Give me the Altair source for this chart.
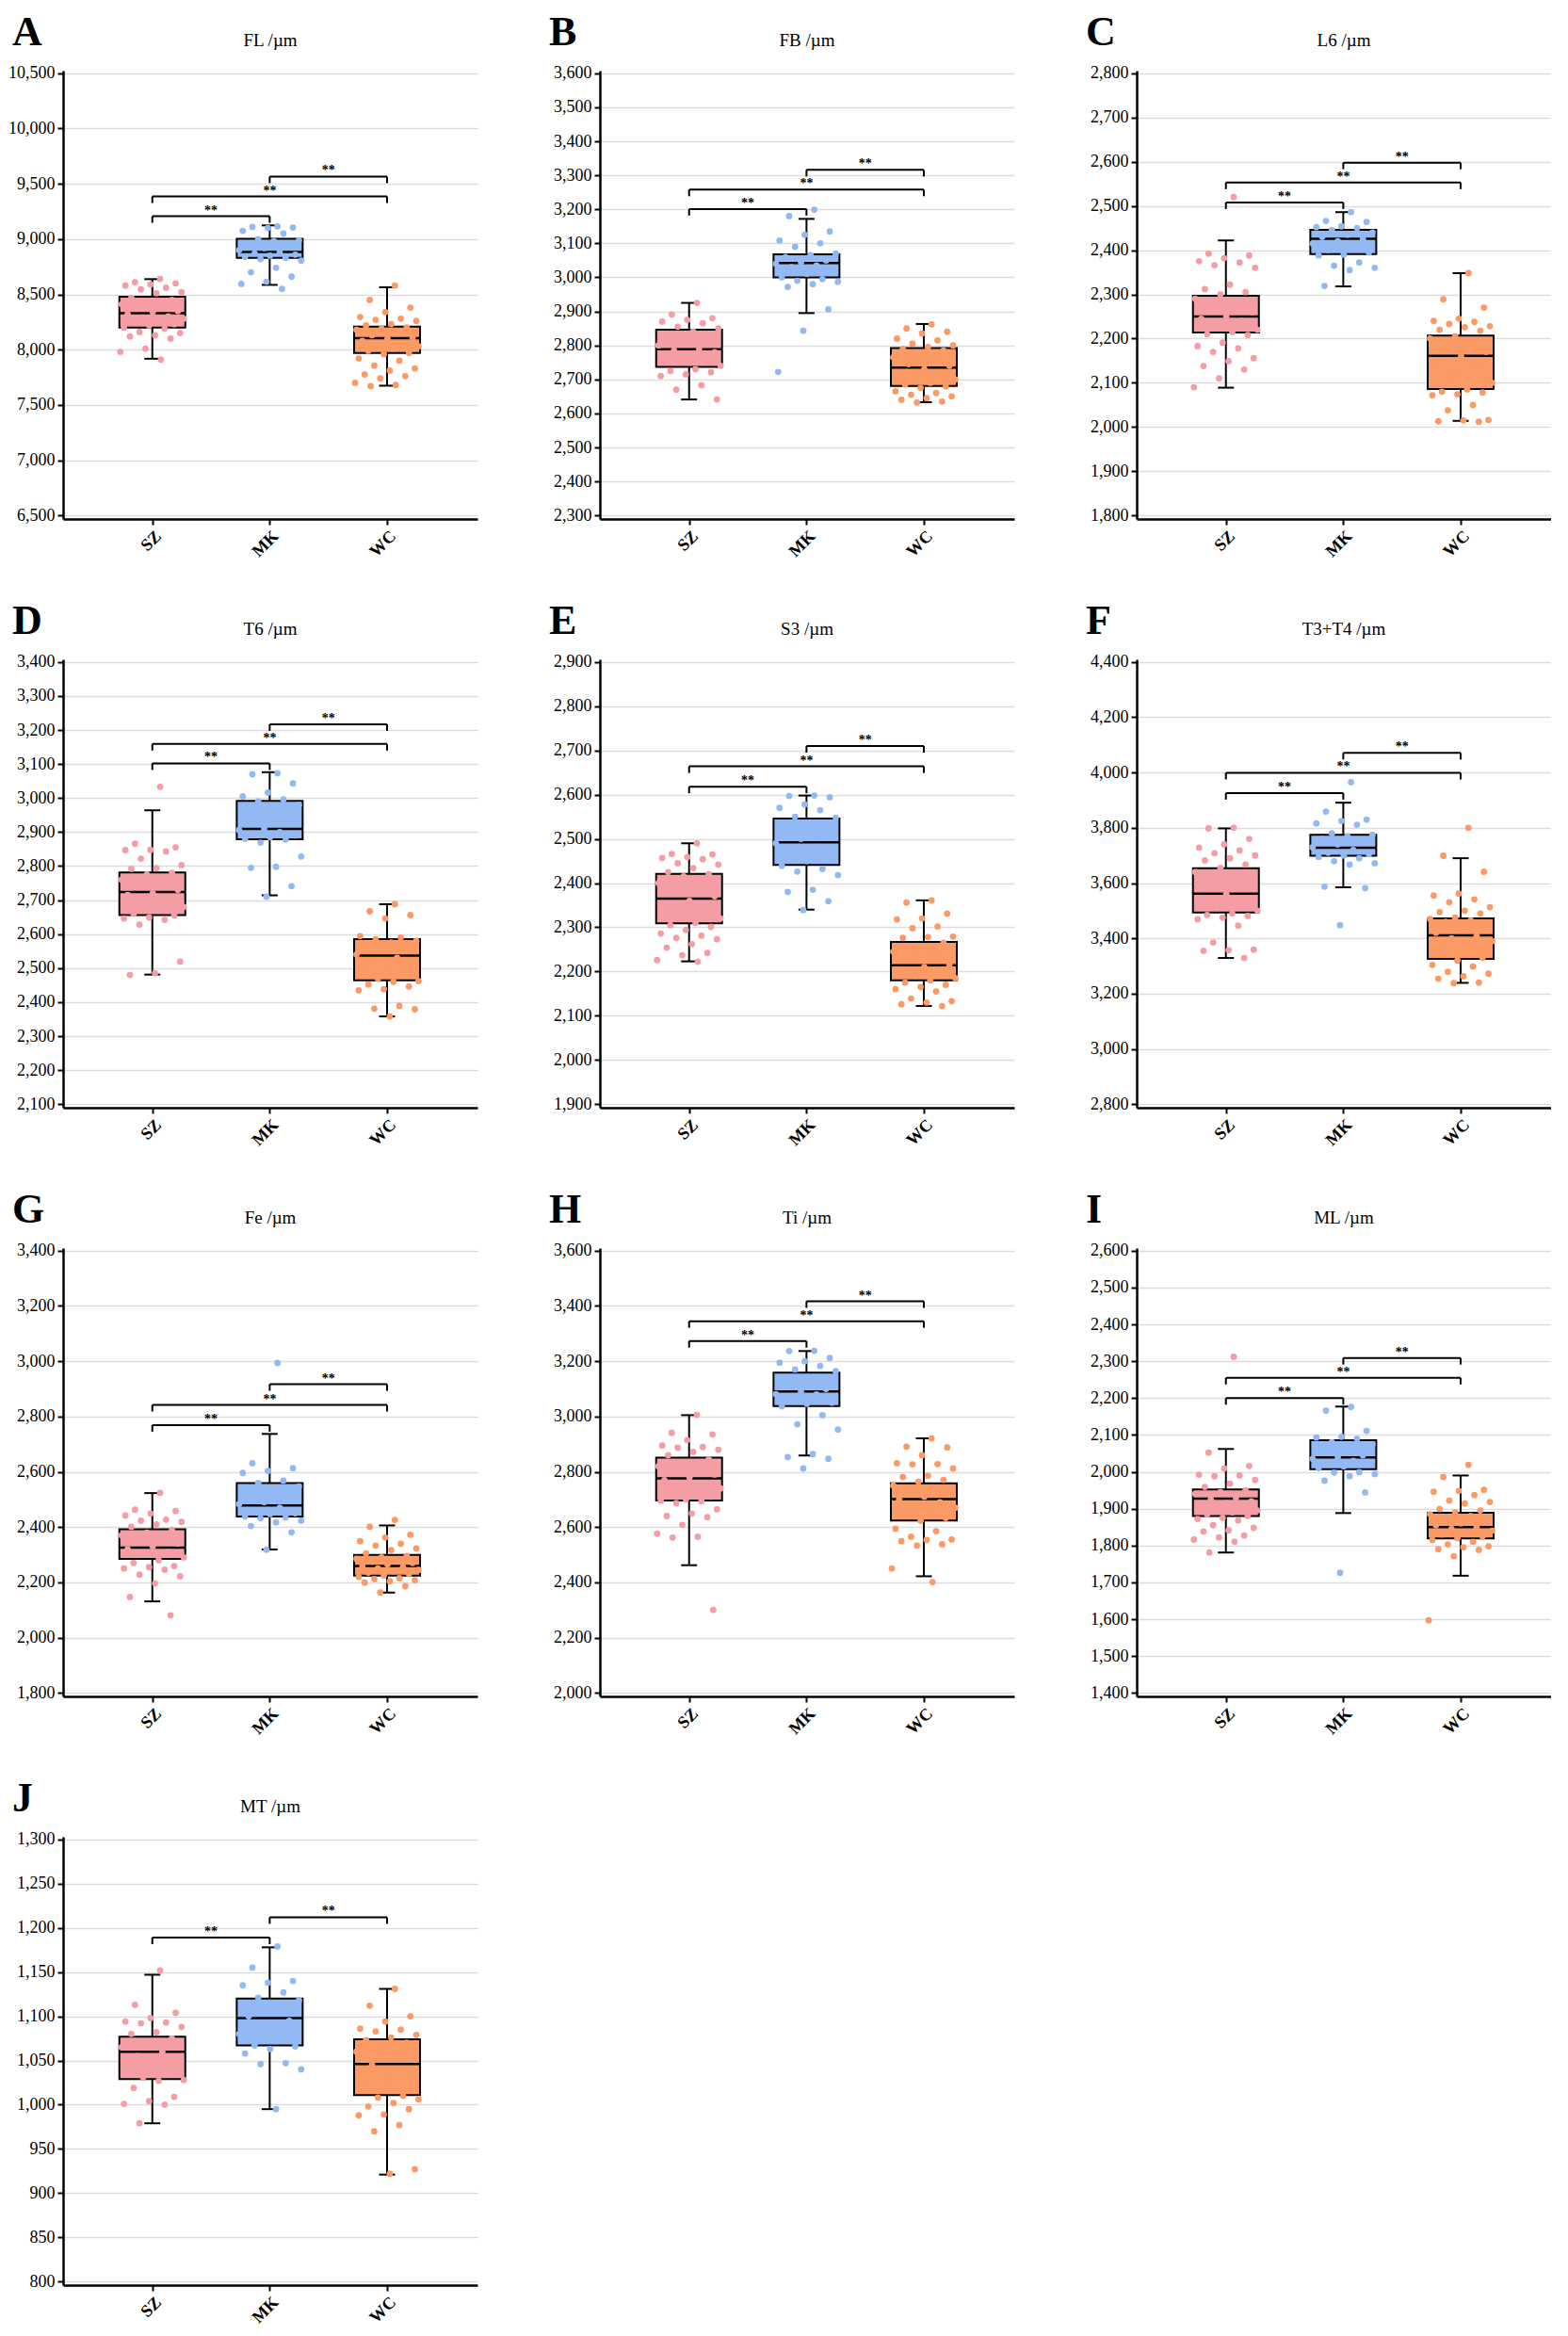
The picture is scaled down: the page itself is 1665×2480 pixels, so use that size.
import altair as alt
import pandas as pd

FONT = "Liberation Serif"
GROUPS = ["SZ", "MK", "WC"]
COLORS = ["#F59DA5", "#93B9F5", "#FB9A64"]

# ---------------- data ----------------
# box stats per group: (whisker low, q1, median, q3, whisker high)
A_SZ = [8640, 8610, 8600, 8590, 8580, 8560, 8545, 8520, 8510, 8470, 8450, 8430, 8410, 8390, 8370, 8350, 8340, 8320, 8300, 8290, 8280, 8260, 8250, 8230, 8220, 8200, 8190, 8160, 8150, 8130, 8120, 8100, 8010, 7980, 7910]
A_MK = [9115, 9110, 9105, 9100, 9075, 9050, 9000, 8990, 8980, 8960, 8940, 8920, 8900, 8880, 8870, 8860, 8850, 8840, 8830, 8820, 8805, 8740, 8700, 8660, 8615, 8595, 8550]
A_WC = [8580, 8450, 8380, 8340, 8295, 8280, 8270, 8260, 8230, 8220, 8200, 8190, 8180, 8150, 8130, 8110, 8100, 8080, 8060, 8040, 8030, 8010, 7990, 7970, 7960, 7920, 7900, 7855, 7830, 7810, 7775, 7760, 7740, 7700, 7680, 7670]
A_BOX = [(7918, 8199, 8330, 8478, 8638), (8586, 8830, 8884, 9002, 9124), (7674, 7969, 8103, 8209, 8564)]
A_SIG = [(0, 1, 9207), (0, 2, 9386), (1, 2, 9566)]
A_TICKS = [6500, 7000, 7500, 8000, 8500, 9000, 9500, 10000, 10500]

B_SZ = [2925, 2891, 2880, 2875, 2870, 2865, 2855, 2850, 2840, 2830, 2820, 2810, 2800, 2790, 2785, 2780, 2770, 2760, 2755, 2750, 2740, 2730, 2725, 2721, 2715, 2710, 2683, 2670, 2641]
B_MK = [3199, 3180, 3135, 3125, 3108, 3100, 3090, 3070, 3065, 3060, 3050, 3045, 3040, 3035, 3030, 3020, 3010, 3000, 2995, 2990, 2987, 2980, 2972, 2906, 2843, 2722]
B_WC = [2862, 2850, 2840, 2835, 2820, 2815, 2805, 2800, 2795, 2790, 2785, 2775, 2765, 2755, 2745, 2740, 2730, 2720, 2715, 2705, 2700, 2690, 2685, 2680, 2675, 2665, 2660, 2655, 2650, 2645, 2640, 2635, 2632]
B_BOX = [(2641, 2737, 2789, 2846, 2925), (2895, 3000, 3042, 3068, 3172), (2633, 2681, 2735, 2792, 2863)]
B_SIG = [(0, 1, 3201), (0, 2, 3258), (1, 2, 3316)]
B_TICKS = list(range(2300, 3601, 100))

C_SZ = [2520, 2392, 2388, 2382, 2375, 2372, 2366, 2360, 2322, 2312, 2305, 2300, 2290, 2280, 2270, 2260, 2250, 2245, 2240, 2233, 2220, 2215, 2210, 2208, 2191, 2183, 2178, 2170, 2156, 2149, 2138, 2130, 2110, 2090]
C_MK = [2486, 2466, 2464, 2454, 2452, 2450, 2445, 2440, 2435, 2430, 2425, 2420, 2415, 2410, 2400, 2395, 2390, 2388, 2372, 2365, 2360, 2355, 2319]
C_WC = [2348, 2289, 2270, 2245, 2240, 2238, 2233, 2228, 2226, 2220, 2218, 2205, 2200, 2195, 2180, 2170, 2160, 2150, 2140, 2120, 2100, 2085, 2080, 2078, 2074, 2072, 2050, 2038, 2016, 2015, 2013, 2012]
C_BOX = [(2089, 2214, 2250, 2297, 2422), (2318, 2391, 2426, 2446, 2486), (2014, 2086, 2161, 2207, 2348)]
C_SIG = [(0, 1, 2508), (0, 2, 2553), (1, 2, 2598)]
C_TICKS = list(range(1800, 2801, 100))

D_SZ = [3033, 2866, 2855, 2848, 2847, 2843, 2822, 2803, 2794, 2792, 2780, 2775, 2760, 2750, 2740, 2730, 2720, 2715, 2700, 2690, 2680, 2670, 2660, 2655, 2649, 2646, 2642, 2628, 2519, 2485, 2480]
D_MK = [3073, 3070, 3043, 3016, 3005, 2996, 2990, 2980, 2960, 2940, 2930, 2910, 2906, 2900, 2895, 2890, 2885, 2880, 2878, 2869, 2828, 2798, 2795, 2741, 2710]
D_WC = [2688, 2667, 2656, 2646, 2594, 2590, 2585, 2580, 2575, 2570, 2560, 2550, 2540, 2530, 2520, 2509, 2500, 2490, 2480, 2469, 2462, 2460, 2452, 2446, 2438, 2435, 2389, 2381, 2379, 2358]
D_BOX = [(2481, 2656, 2724, 2781, 2964), (2714, 2879, 2909, 2992, 3076), (2358, 2464, 2537, 2585, 2688)]
D_SIG = [(0, 1, 3102), (0, 2, 3159), (1, 2, 3217)]
D_TICKS = list(range(2100, 3401, 100))

E_SZ = [2490, 2466, 2465, 2459, 2457, 2454, 2445, 2442, 2434, 2425, 2420, 2415, 2400, 2390, 2380, 2370, 2360, 2350, 2340, 2330, 2320, 2310, 2305, 2301, 2294, 2286, 2281, 2276, 2273, 2262, 2254, 2242, 2237, 2226, 2222]
E_MK = [2598, 2597, 2594, 2578, 2570, 2565, 2550, 2548, 2530, 2520, 2510, 2500, 2490, 2482, 2470, 2460, 2450, 2439, 2432, 2426, 2418, 2385, 2380, 2359, 2339]
E_WC = [2361, 2356, 2331, 2320, 2318, 2302, 2298, 2279, 2278, 2276, 2265, 2255, 2245, 2235, 2225, 2215, 2210, 2200, 2195, 2190, 2185, 2180, 2175, 2170, 2165, 2160, 2155, 2139, 2133, 2130, 2126, 2122]
E_BOX = [(2223, 2309, 2365, 2421, 2490), (2340, 2441, 2492, 2546, 2598), (2122, 2180, 2214, 2267, 2361)]
E_SIG = [(0, 1, 2618), (0, 2, 2664), (1, 2, 2710)]
E_TICKS = list(range(1900, 2901, 100))

F_SZ = [3800, 3798, 3760, 3740, 3728, 3718, 3708, 3700, 3690, 3682, 3667, 3655, 3640, 3620, 3600, 3580, 3560, 3540, 3520, 3510, 3500, 3490, 3485, 3481, 3475, 3469, 3446, 3385, 3359, 3357, 3355, 3329]
F_MK = [3965, 3859, 3830, 3825, 3816, 3811, 3780, 3775, 3770, 3760, 3750, 3740, 3730, 3720, 3710, 3705, 3700, 3695, 3690, 3679, 3672, 3667, 3587, 3582, 3448]
F_WC = [3800, 3699, 3641, 3562, 3555, 3541, 3531, 3513, 3500, 3495, 3490, 3475, 3470, 3465, 3460, 3450, 3440, 3420, 3410, 3400, 3390, 3370, 3350, 3330, 3320, 3304, 3298, 3279, 3272, 3263, 3254, 3240, 3238]
F_BOX = [(3329, 3494, 3562, 3654, 3798), (3585, 3699, 3728, 3775, 3891), (3239, 3326, 3411, 3472, 3690)]
F_SIG = [(0, 1, 3926), (0, 2, 3999), (1, 2, 4071)]
F_TICKS = list(range(2800, 4401, 200))

G_SZ = [2524, 2463, 2458, 2449, 2442, 2427, 2423, 2419, 2410, 2401, 2390, 2380, 2370, 2360, 2350, 2340, 2330, 2320, 2310, 2300, 2290, 2280, 2270, 2259, 2255, 2250, 2246, 2228, 2222, 2196, 2147, 2081]
G_MK = [2994, 2631, 2613, 2603, 2596, 2568, 2560, 2547, 2529, 2510, 2500, 2490, 2483, 2470, 2460, 2450, 2447, 2438, 2435, 2432, 2423, 2417, 2404, 2381, 2318]
G_WC = [2426, 2401, 2372, 2362, 2349, 2340, 2333, 2323, 2317, 2305, 2295, 2290, 2285, 2280, 2275, 2270, 2265, 2260, 2255, 2250, 2245, 2240, 2235, 2230, 2225, 2220, 2215, 2212, 2208, 2204, 2199, 2186, 2163]
G_BOX = [(2131, 2285, 2326, 2392, 2523), (2319, 2438, 2478, 2559, 2737), (2163, 2224, 2259, 2299, 2406)]
G_SIG = [(0, 1, 2769), (0, 2, 2842), (1, 2, 2917)]
G_TICKS = list(range(1800, 3401, 200))

H_SZ = [3006, 2941, 2935, 2915, 2895, 2890, 2887, 2880, 2872, 2860, 2845, 2830, 2820, 2810, 2800, 2790, 2780, 2770, 2760, 2754, 2740, 2730, 2720, 2710, 2700, 2695, 2694, 2687, 2664, 2649, 2640, 2636, 2608, 2576, 2565, 2562, 2300]
H_MK = [3238, 3237, 3212, 3200, 3195, 3183, 3170, 3164, 3140, 3120, 3100, 3090, 3081, 3080, 3060, 3050, 3046, 3037, 3005, 2972, 2953, 2864, 2853, 2847, 2812]
H_WC = [2921, 2891, 2888, 2860, 2831, 2828, 2827, 2812, 2786, 2781, 2771, 2764, 2750, 2740, 2730, 2720, 2710, 2700, 2690, 2680, 2670, 2660, 2650, 2633, 2623, 2594, 2585, 2565, 2555, 2553, 2549, 2538, 2533, 2450, 2401]
H_BOX = [(2462, 2696, 2776, 2851, 3005), (2859, 3038, 3091, 3159, 3237), (2422, 2624, 2701, 2758, 2921)]
H_SIG = [(0, 1, 3273), (0, 2, 3345), (1, 2, 3417)]
H_TICKS = list(range(2000, 3601, 200))

I_SZ = [2312, 2052, 2016, 2009, 1992, 1990, 1988, 1978, 1968, 1959, 1950, 1945, 1940, 1930, 1925, 1920, 1915, 1910, 1905, 1900, 1895, 1890, 1885, 1880, 1875, 1872, 1868, 1855, 1848, 1841, 1838, 1827, 1822, 1816, 1810, 1781]
I_MK = [2176, 2166, 2111, 2095, 2093, 2090, 2080, 2075, 2065, 2055, 2045, 2040, 2035, 2030, 2025, 2020, 2015, 2010, 1999, 1998, 1994, 1988, 1976, 1944, 1726]
I_WC = [2019, 1986, 1951, 1948, 1946, 1937, 1922, 1918, 1914, 1899, 1895, 1890, 1885, 1880, 1875, 1865, 1860, 1855, 1850, 1845, 1840, 1835, 1830, 1825, 1820, 1815, 1810, 1803, 1798, 1795, 1790, 1788, 1771, 1597]
I_BOX = [(1781, 1880, 1927, 1952, 2062), (1888, 2007, 2039, 2086, 2177), (1718, 1819, 1850, 1889, 1990)]
I_SIG = [(0, 1, 2200), (0, 2, 2255), (1, 2, 2309)]
I_TICKS = list(range(1400, 2601, 100))

J_SZ = [1152, 1113, 1104, 1098, 1094, 1093, 1092, 1088, 1082, 1080, 1075, 1070, 1065, 1060, 1055, 1050, 1045, 1040, 1035, 1031, 1028, 1027, 1019, 1009, 1004, 1001, 1000, 979]
J_MK = [1179, 1155, 1140, 1138, 1135, 1127, 1121, 1118, 1110, 1100, 1095, 1090, 1080, 1075, 1067, 1066, 1063, 1058, 1047, 1046, 1040, 995]
J_WC = [1131, 1112, 1100, 1094, 1086, 1085, 1083, 1079, 1076, 1073, 1070, 1065, 1060, 1052, 1045, 1040, 1030, 1020, 1010, 1008, 1006, 1002, 998, 995, 989, 988, 977, 970, 927, 922]
J_BOX = [(979, 1029, 1060, 1077, 1147), (995, 1067, 1098, 1120, 1178), (921, 1011, 1046, 1074, 1131)]
J_SIG = [(0, 1, 1189), (1, 2, 1212)]
J_TICKS = list(range(800, 1301, 50))

PANELS = [
    ("A", "FL /µm", A_SZ, A_MK, A_WC, A_BOX, A_SIG, A_TICKS),
    ("B", "FB /µm", B_SZ, B_MK, B_WC, B_BOX, B_SIG, B_TICKS),
    ("C", "L6 /µm", C_SZ, C_MK, C_WC, C_BOX, C_SIG, C_TICKS),
    ("D", "T6 /µm", D_SZ, D_MK, D_WC, D_BOX, D_SIG, D_TICKS),
    ("E", "S3 /µm", E_SZ, E_MK, E_WC, E_BOX, E_SIG, E_TICKS),
    ("F", "T3+T4 /µm", F_SZ, F_MK, F_WC, F_BOX, F_SIG, F_TICKS),
    ("G", "Fe /µm", G_SZ, G_MK, G_WC, G_BOX, G_SIG, G_TICKS),
    ("H", "Ti /µm", H_SZ, H_MK, H_WC, H_BOX, H_SIG, H_TICKS),
    ("I", "ML /µm", I_SZ, I_MK, I_WC, I_BOX, I_SIG, I_TICKS),
    ("J", "MT /µm", J_SZ, J_MK, J_WC, J_BOX, J_SIG, J_TICKS),
]

W = 440
H = 476


def make_panel(letter, title, sz, mk, wc, box, sig, ticks):
    lo_t, hi_t = ticks[0], ticks[-1]
    r = hi_t - lo_t
    ydom = [lo_t - 0.008 * r, hi_t + 0.006 * r]

    pts = pd.DataFrame([{"grp": GROUPS[g], "g": g, "v": v}
                        for g, vals in enumerate([sz, mk, wc]) for v in vals])
    bx = pd.DataFrame([{"grp": GROUPS[g], "g": g, "lo": b[0], "q1": b[1],
                        "med": b[2], "q3": b[3], "hi": b[4]} for g, b in enumerate(box)])
    sg = pd.DataFrame([{"a": a, "b": b, "h": h, "mid": (a + b) / 2} for a, b, h in sig])
    lab = pd.DataFrame([{"letter": letter, "name": title}])

    xs = alt.Scale(domain=[-0.72, 2.73], nice=False, zero=False)
    ys = alt.Scale(domain=ydom, nice=False, zero=False)
    xaxis = alt.Axis(values=[0, 1, 2], labelExpr="['SZ','MK','WC'][datum.value]",
                     labelAngle=-45, grid=False, title=None, labelOverlap=False)
    yaxis = alt.Axis(values=ticks, format=",d", grid=True, title=None, labelOverlap=False)

    def X(f):
        return alt.X(f, type="quantitative", scale=xs, axis=xaxis)

    def Y(f):
        return alt.Y(f, type="quantitative", scale=ys, axis=yaxis)

    col = alt.Color("grp:N", scale=alt.Scale(domain=GROUPS, range=COLORS), legend=None)

    whisk = alt.Chart(bx).mark_rule(color="black", strokeWidth=2).encode(
        x=X("g"), y=Y("lo"), y2="hi")
    caps = alt.Chart(bx).transform_fold(["lo", "hi"], as_=["k", "val"]).mark_tick(
        orient="horizontal", size=17, thickness=2, color="black", opacity=1).encode(
        x=X("g"), y=Y("val"))
    boxes = alt.Chart(bx).mark_bar(size=70, orient="vertical", stroke="black",
                                   strokeWidth=2, opacity=1).encode(
        x=X("g"), y=Y("q1"), y2="q3", color=col)
    med = alt.Chart(bx).mark_tick(orient="horizontal", size=70, thickness=2.5,
                                  color="black", opacity=1).encode(x=X("g"), y=Y("med"))
    dots = alt.Chart(pts).transform_window(
        rn="row_number()", groupby=["g"]
    ).transform_calculate(
        xj="datum.g + 0.28 * (2 * ((datum.rn * 0.618034) % 1) - 1)"
    ).mark_circle(size=46, opacity=1).encode(x=X("xj"), y=Y("v"), color=col)

    hbar = alt.Chart(sg).mark_rule(color="black", strokeWidth=2).encode(
        x=X("a"), x2="b", y=Y("h"))
    ends = alt.Chart(sg).transform_fold(["a", "b"], as_=["k", "xe"]).mark_rule(
        color="black", strokeWidth=2, y2Offset=7).encode(x=X("xe"), y=Y("h"), y2="h")
    stars = alt.Chart(sg).mark_text(text="**", font=FONT, fontSize=14, fontWeight="bold",
                                    baseline="alphabetic", align="center", dy=-2,
                                    color="black").encode(x=X("mid"), y=Y("h"))

    let = alt.Chart(lab).mark_text(font=FONT, fontSize=44, fontWeight="bold",
                                   align="left", baseline="alphabetic", color="black").encode(
        x=alt.value(-54), y=alt.value(-27), text="letter:N")
    ttl = alt.Chart(lab).mark_text(font=FONT, fontSize=19, align="center",
                                   baseline="alphabetic", color="black").encode(
        x=alt.value(W / 2), y=alt.value(-26), text="name:N")

    return alt.layer(whisk, caps, boxes, med, dots, hbar, ends, stars, let, ttl).properties(
        width=W, height=H)


panels = [make_panel(*p) for p in PANELS]

chart = alt.concat(*panels, columns=3, spacing={"row": 43, "column": 76}).properties(
    padding={"top": 5, "left": 0, "right": 0, "bottom": 0}
).configure_view(stroke=None).configure_axis(
    labelFont=FONT, labelColor="black", labelFontSize=18, labelPadding=3,
    domainColor="black", domainWidth=2.5, tickColor="black", tickWidth=2, tickSize=6,
    gridColor="#DDDDDD", gridWidth=1.5
).configure_axisX(labelFontWeight="bold", labelFontSize=18)

chart.save("out.html", embed_options={"renderer": "svg", "actions": False})
